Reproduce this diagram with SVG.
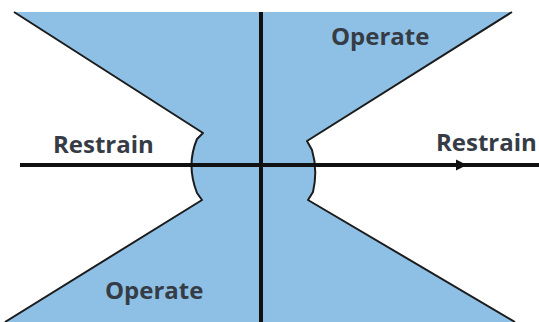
<svg xmlns="http://www.w3.org/2000/svg" width="539" height="322" viewBox="0 0 539 322">
  <style>
    .lbl { font-family: "Open Sans", "Liberation Sans", sans-serif; font-weight: bold; font-size: 24px; fill: #363c45; }
    .edge { fill: none; stroke: #1c1c1c; stroke-width: 2; stroke-linejoin: round; }
    .axis { stroke: #111; stroke-width: 4; }
  </style>
  <rect width="539" height="322" fill="#ffffff"/>
  <g id="region">
    <path fill="#8ec0e6" d="M14,12 L512,12 L307,141 L312,150 Q318,170 313,192 L308,200 L515,322 L5,322 L202,200 L197,193 Q186,165 197,139 L203,133 Z"/>
    <path class="edge" d="M14,12 L203,133 L197,139 Q186,165 197,193 L202,200 L5,322"/>
    <path class="edge" d="M512,12 L307,141 L312,150 Q318,170 313,192 L308,200 L515,322"/>
  </g>
  <g id="axes">
    <line class="axis" x1="20" y1="165" x2="539" y2="165"/>
    <polygon points="456,159.5 467,165 456,170.5" fill="#111"/>
    <line class="axis" x1="261" y1="12" x2="261" y2="322" stroke-width="3.5"/>
  </g>
  <g id="labels">
    <text class="lbl" x="53" y="153">Restrain</text>
    <text class="lbl" x="436" y="151">Restrain</text>
    <text class="lbl" x="331" y="45">Operate</text>
    <text class="lbl" x="105" y="299">Operate</text>
  </g>
</svg>
